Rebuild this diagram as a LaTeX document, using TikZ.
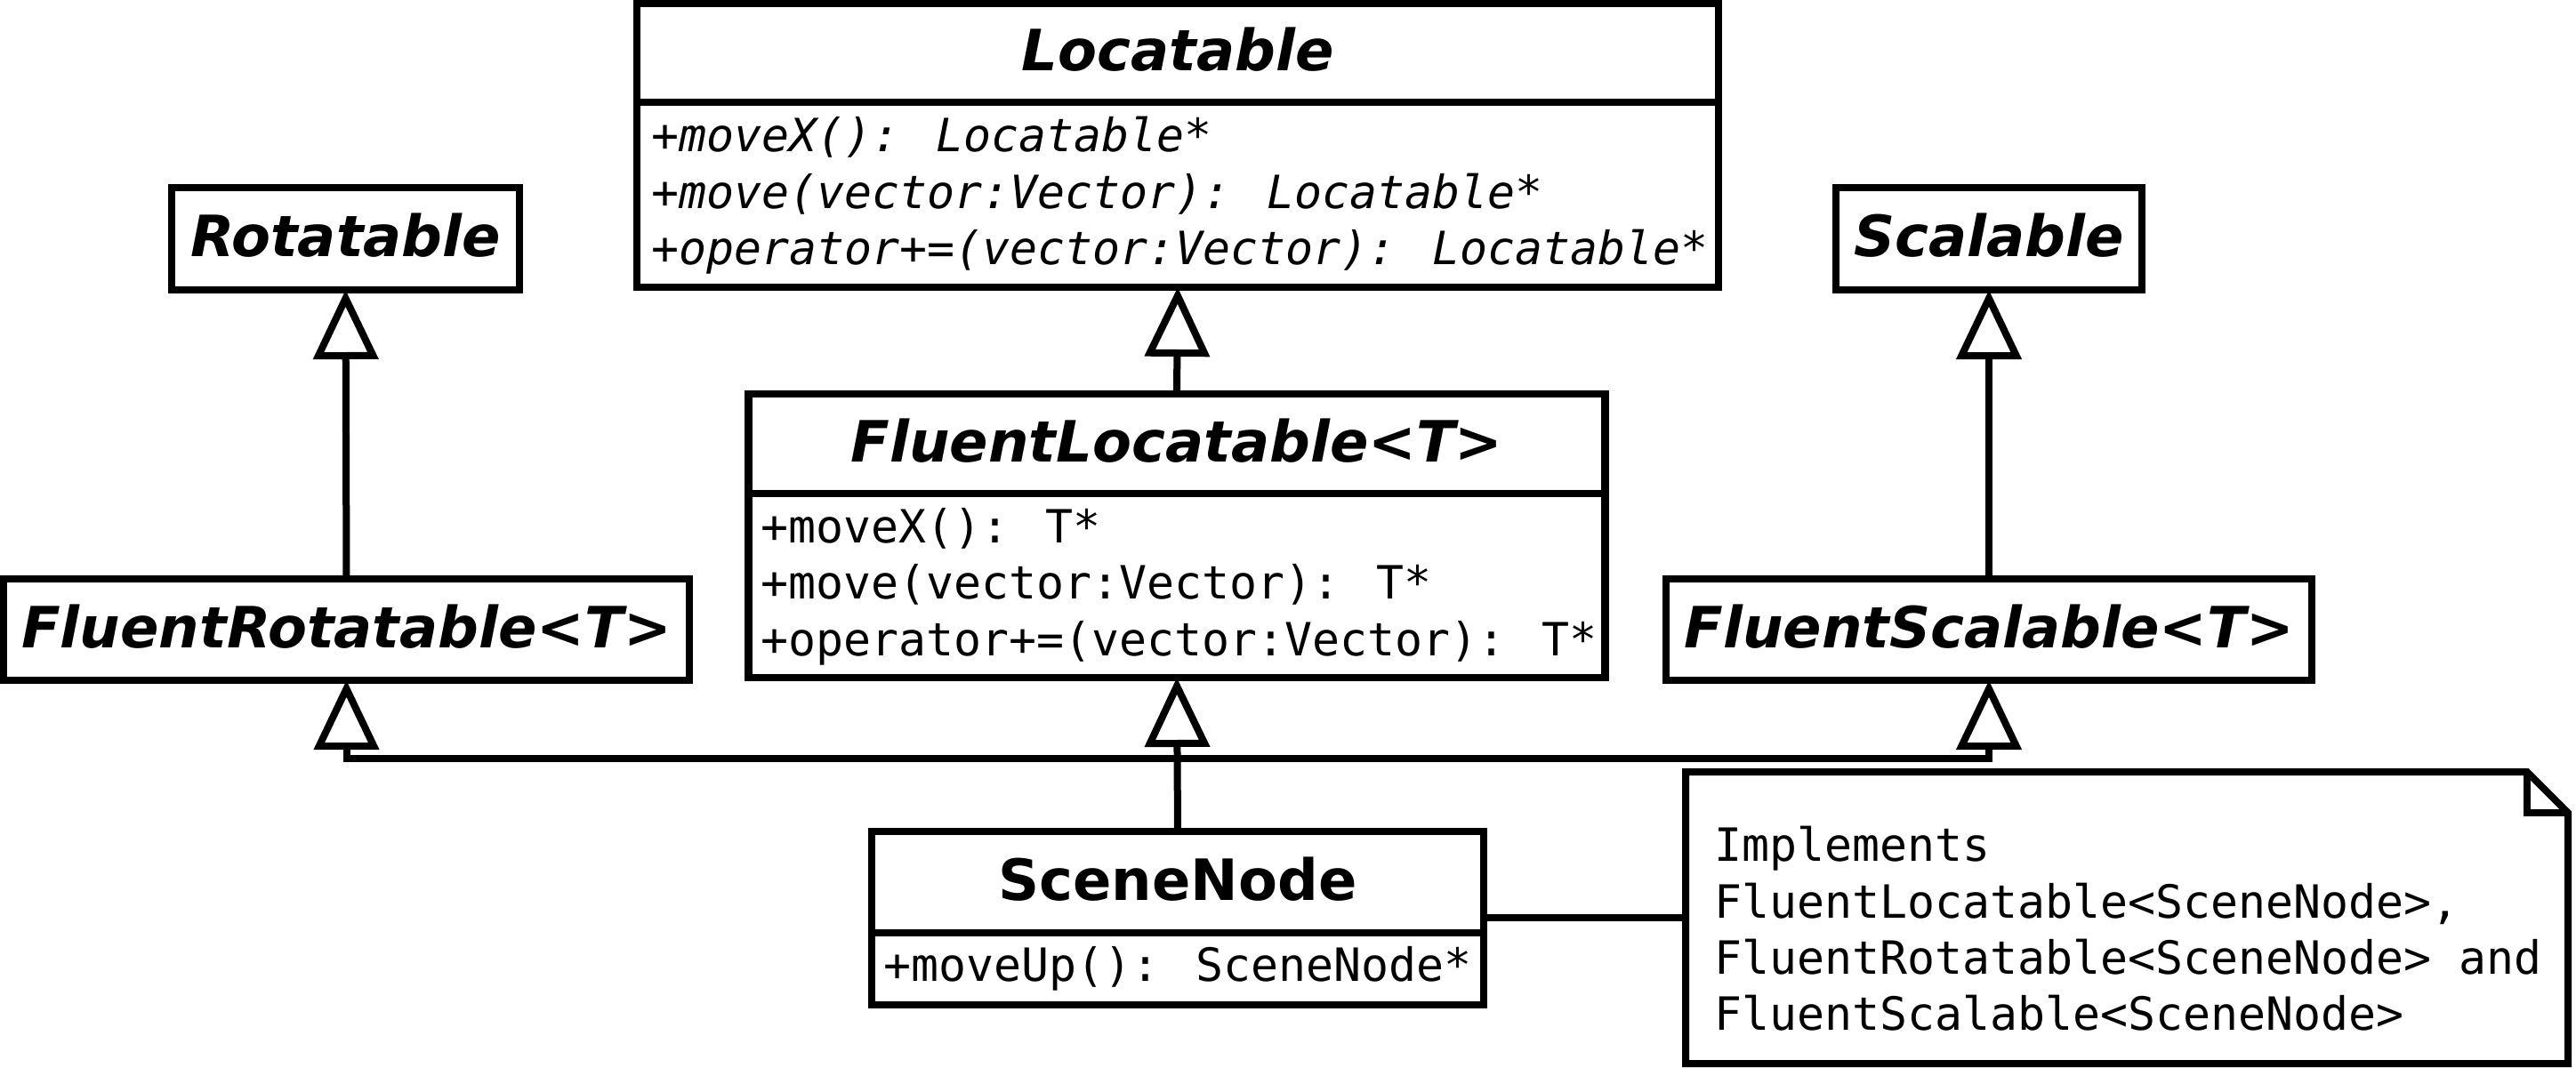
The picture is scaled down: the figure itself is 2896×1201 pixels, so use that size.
\documentclass[tikz,border=0pt]{standalone}
\usepackage{fontspec}
\setmainfont{DejaVu Sans}
\newfontfamily\umlmono{DejaVu Sans Mono}
\usetikzlibrary{arrows.meta}
\begin{document}
\begin{tikzpicture}[x=1pt,y=-1pt,
  box/.style={draw, line width=8.5pt, fill=white, inner sep=0pt, outer sep=0pt},
  hdr/.style={box, font=\fontsize{64}{76}\selectfont\bfseries\itshape, text height=55pt, text depth=15pt},
  hdrup/.style={hdr, font=\fontsize{64}{76}\selectfont\bfseries},
  op/.style={anchor=base west, inner sep=0pt, font=\fontsize{51.5}{61}\selectfont\umlmono},
  opi/.style={op, font=\fontsize{51.5}{61}\selectfont\umlmono\itshape},
  gen/.style={line width=8pt, -{Triangle[open, length=78pt, width=72pt]}},
  conn/.style={line width=8pt}
]
\useasboundingbox (0,0) rectangle (2896,1201);

% Locatable
\node[hdr, minimum width=1216pt, minimum height=111pt] (loch) at (1324,59.5) {Locatable};
\node[box, minimum width=1216pt, minimum height=208pt] (locb) at (1324,219) {};
\node[opi] (loc1) at (732,171) {+moveX(): Locatable*};
\node[opi] (loc2) at (732,234) {+move(vector:Vector): Locatable*};
\node[opi] (loc3) at (732,297) {+operator+=(vector:Vector): Locatable*};

% Rotatable
\node[hdr, minimum width=391pt, minimum height=115pt] (rot) at (388.5,268.5) {Rotatable};
\node[hdr, minimum width=771pt, minimum height=114pt] (frot) at (389.5,708) {FluentRotatable<T>};

% Scalable
\node[hdr, minimum width=344pt, minimum height=115pt] (sca) at (2236,268.5) {Scalable};
\node[hdr, minimum width=726pt, minimum height=114pt] (fsca) at (2236,708) {FluentScalable<T>};

% FluentLocatable
\node[hdr, minimum width=963pt, minimum height=112pt] (floch) at (1323,499) {FluentLocatable<T>};
\node[box, minimum width=963pt, minimum height=207pt] (flocb) at (1323,658.5) {};
\node[op] (floc1) at (855,610) {+moveX(): T*};
\node[op] (floc2) at (855,673) {+move(vector:Vector): T*};
\node[op] (floc3) at (855,737) {+operator+=(vector:Vector): T*};

% SceneNode
\node[hdrup, minimum width=688pt, minimum height=114pt] (scnh) at (1324,992) {SceneNode};
\node[box, minimum width=688pt, minimum height=81pt] (scnb) at (1324,1089.5) {};
\node[op] (scn1) at (993,1103) {+moveUp(): SceneNode*};

% Note
\node[inner sep=0pt, outer sep=0pt, minimum width=992pt, minimum height=328pt] (note) at (2391,1032) {};
\draw[conn, fill=white] (note.south west) -- (note.north west) -- ([xshift=-46pt]note.north east)
  -- ([yshift=-46pt]note.north east) -- (note.south east) -- cycle;
\draw[conn] ([xshift=-46pt]note.north east) -- ([xshift=-46pt,yshift=-46pt]note.north east)
  -- ([yshift=-46pt]note.north east);
\node[op] (n1) at (1927,968) {Implements};
\node[op] (n2) at (1927,1032) {FluentLocatable<SceneNode>,};
\node[op] (n3) at (1927,1095) {FluentRotatable<SceneNode> and};
\node[op] (n4) at (1927,1158) {FluentScalable<SceneNode>};

% connectors
\coordinate (bus) at (1324,853);
\draw[gen] (frot.north) -- (rot.south);
\draw[gen] (fsca.north) -- (sca.south);
\draw[gen] (floch.north) -- (locb.south);
\draw[gen] (scnh.north) -- (flocb.south);
\draw[gen] (bus) -| (frot.south);
\draw[gen] (bus) -| (fsca.south);
\draw[conn] (note.west) -- (note.west -| scnh.east);
\end{tikzpicture}
\end{document}
